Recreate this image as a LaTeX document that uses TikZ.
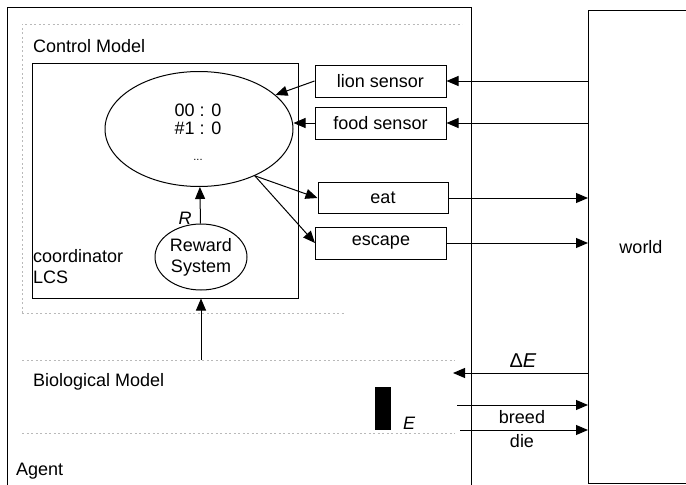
\documentclass[tikz,border=0pt]{standalone}
\usepackage{fontspec}
\setmainfont{Liberation Sans}
\usetikzlibrary{arrows.meta,shapes.geometric,calc}
\begin{document}
\begin{tikzpicture}[x=1pt,y=-1pt,
  every node/.style={font=\fontsize{18}{21}\selectfont, inner sep=0pt},
  frame/.style={draw, line width=1pt},
  sbox/.style={frame, rectangle, minimum width=131pt, minimum height=32pt},
  oval/.style={frame, ellipse},
  conn/.style={line width=1pt, -{Triangle[length=12pt,width=10pt]}},
  faint/.style={gray!55, line width=0.9pt, dash pattern=on 2pt off 2.5pt},
  lbl/.style={anchor=base west},
  ctr/.style={anchor=base}]
\useasboundingbox (0,0) rectangle (686,485);

% outer frames
\node[frame, anchor=north west, minimum width=464pt, minimum height=500pt] (agent) at (7,7) {};
\node[frame, anchor=north west, minimum width=120pt, minimum height=473pt] (world) at (588,10) {};
\node[ctr] (worldtxt) at (641,253) {world};

% model regions
\draw[faint] (22,313) -- (22,24) -- (462,24);
\draw[faint] (22,313) -- (345,313);
\draw[faint] (22,360) -- (455,360);
\draw[faint] (22,433) -- (455,433);
\node[lbl] (cm) at (33,52) {Control Model};
\node[lbl] (bm) at (33,386) {Biological Model};
\node[lbl] (ag) at (16,475) {Agent};

% coordinator LCS
\node[frame, minimum width=266pt, minimum height=235pt] (lcsbox) at (165,180.5) {};
\node[lbl] (coord) at (33,262) {coordinator};
\node[lbl] (lcsname) at (33,283) {LCS};
\node[oval, minimum width=188pt, minimum height=115pt] (lcs) at (199,129) {};
\node[ctr] (r1) at (198,116) {00 : 0};
\node[ctr] (r2) at (198,134) {\#1 : 0};
\node[ctr] (r3) at (198,160) {\fontsize{11}{12}\selectfont ...};
\node[oval, minimum width=92pt, minimum height=66pt, align=center] (rew) at (201,257) {Reward\\System};
\draw[conn] (rew) -- (lcs);
\node[ctr] (rlab) at (185,224) {\itshape R};

% sensors and effectors
\node[sbox] (lion) at (380.5,81) {lion sensor};
\node[sbox] (food) at (380.5,123) {food sensor};
\node[sbox, minimum width=130pt, minimum height=31pt] (eat) at (383,198) {eat};
\node[sbox] (escape) at (381,243) {escape};

\draw[conn] (lion.west) -- (lcs.24);
\draw[conn] (food.west) -- (food.west -| lcs.east);
\coordinate (out) at (lcs.-40);
\draw[conn] (out) -- (eat.west);
\draw[conn] (out) -- (escape.west);

\draw[conn] (world.west |- lion.east) -- (lion.east);
\draw[conn] (world.west |- food.east) -- (food.east);
\draw[conn] (eat.east) -- (eat.east -| world.west);
\draw[conn] (escape.east) -- (escape.east -| world.west);

% biological model
\coordinate (bio) at (201,360);
\draw[conn] (bio) -- (bio |- lcsbox.south);
\node[fill=black, minimum width=16pt, minimum height=43pt] (ebar) at (383,408.5) {};
\node[lbl] (elab) at (403,429) {\itshape E};

\coordinate (de) at (453,373);
\draw[conn] (world.west |- de) -- (de);
\node[ctr] (delab) at (523,367) {\fontsize{20}{22}\selectfont Δ\textit{E}};
\coordinate (br) at (457,405);
\draw[conn] (br) -- (br -| world.west);
\node[ctr] (brlab) at (522,423) {breed};
\coordinate (di) at (460,430);
\draw[conn] (di) -- (di -| world.west);
\node[ctr] (dilab) at (522,447) {die};
\end{tikzpicture}
\end{document}
